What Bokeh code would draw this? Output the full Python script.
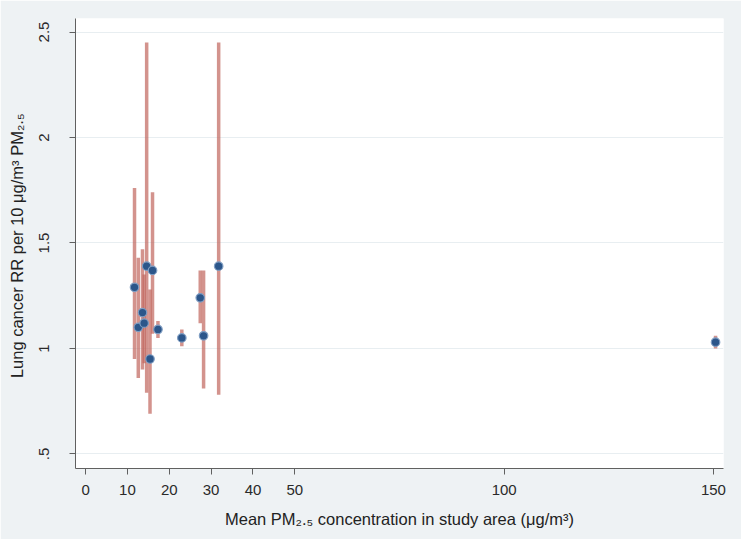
from bokeh.plotting import figure
from bokeh.models import FixedTicker, Range1d, ColumnDataSource
from bokeh.embed import file_html
from bokeh.resources import INLINE

# Mean PM2.5 concentration (ug/m3) in study area
pm25 = [11.7, 12.6, 13.6, 14.0, 14.6, 15.4, 16.0, 17.3, 23.0, 27.4, 28.2, 31.8, 150.5]
# Lung cancer RR per 10 ug/m3 PM2.5 and its confidence interval
rr = [1.29, 1.10, 1.17, 1.12, 1.39, 0.95, 1.37, 1.09, 1.05, 1.24, 1.06, 1.39, 1.03]
rr_low = [0.95, 0.86, 0.90, 0.93, 0.79, 0.69, 1.07, 1.05, 1.01, 1.12, 0.81, 0.78, 1.00]
rr_high = [1.76, 1.43, 1.47, 1.35, 2.45, 1.28, 1.74, 1.13, 1.09, 1.37, 1.37, 2.45, 1.06]

x_ticks = [0, 10, 20, 30, 40, 50, 100, 150]
y_ticks = [0.5, 1, 1.5, 2, 2.5]
y_tick_labels = {0.5: ".5", 1: "1", 1.5: "1.5", 2: "2", 2.5: "2.5"}

src = ColumnDataSource(dict(x=pm25, y=rr, lo=rr_low, hi=rr_high))

bg = "#eef2f4"
font = "Liberation Sans"

p = figure(width=741, height=539, output_backend="svg", toolbar_location=None,
           x_range=Range1d(-2.4, 152.4), y_range=Range1d(0.431, 2.564),
           min_border_left=75, min_border_right=18, min_border_top=18, min_border_bottom=71)
p.border_fill_color = bg
p.background_fill_color = "white"
p.outline_line_color = None

p.segment(x0="x", x1="x", y0="lo", y1="hi", source=src,
          line_color="#c0655d", line_alpha=0.7, line_width=3.5)
p.scatter(x="x", y="y", source=src, size=8.5, fill_color="#2c568a",
          line_color="#7f9dc2", line_width=1.2)

p.xaxis.ticker = FixedTicker(ticks=x_ticks)
p.yaxis.ticker = FixedTicker(ticks=y_ticks)
p.yaxis.major_label_overrides = y_tick_labels
p.yaxis.major_label_orientation = "vertical"

for ax in (p.xaxis[0], p.yaxis[0]):
    ax.axis_line_color = "#606060"
    ax.major_tick_line_color = "#606060"
    ax.minor_tick_line_color = None
    ax.major_tick_out = 6
    ax.major_tick_in = 0
    ax.major_label_text_font = font
    ax.major_label_text_font_size = "15px"
    ax.major_label_text_color = "#2a2a2a"
    ax.axis_label_text_font = font
    ax.axis_label_text_font_size = "16.5px"
    ax.axis_label_text_font_style = "normal"
    ax.axis_label_text_color = "#222222"

p.xaxis.major_label_standoff = 10
p.yaxis.major_label_standoff = 20
p.xaxis.axis_label = "Mean PM\u2082.\u2085 concentration in study area (\u03bcg/m\u00b3)"
p.yaxis.axis_label = "Lung cancer RR per 10 \u03bcg/m\u00b3  PM\u2082.\u2085"
p.xaxis.axis_label_standoff = 12
p.yaxis.axis_label_standoff = 11

p.xgrid.grid_line_color = None
p.ygrid.grid_line_color = "#e8eef1"
p.ygrid.grid_line_width = 1

open("out.html", "w").write(file_html(p, INLINE))
